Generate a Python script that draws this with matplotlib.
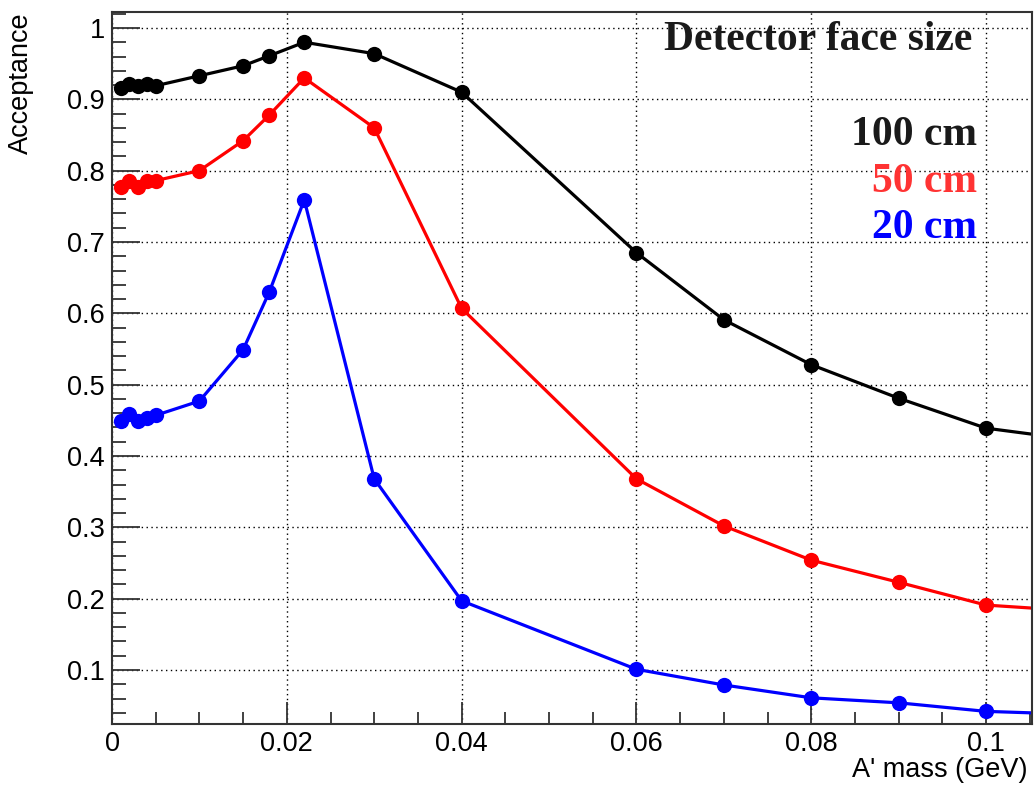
import numpy as np
import matplotlib
matplotlib.use("Agg")
import matplotlib.pyplot as plt
from matplotlib.ticker import MultipleLocator

# --- data ---
mass = [0.001, 0.002, 0.003, 0.004, 0.005, 0.01, 0.015, 0.018, 0.022,
        0.03, 0.04, 0.06, 0.07, 0.08, 0.09, 0.1, 0.11]

acc_100cm = [0.916, 0.921, 0.919, 0.921, 0.919, 0.933, 0.947, 0.961, 0.980,
             0.964, 0.910, 0.685, 0.591, 0.528, 0.481, 0.439, 0.423]
acc_50cm = [0.777, 0.786, 0.777, 0.786, 0.786, 0.800, 0.842, 0.878, 0.930,
            0.860, 0.607, 0.368, 0.302, 0.254, 0.223, 0.191, 0.183]
acc_20cm = [0.449, 0.459, 0.449, 0.453, 0.457, 0.477, 0.549, 0.630, 0.759,
            0.368, 0.197, 0.101, 0.079, 0.061, 0.054, 0.042, 0.038]

series = [("100 cm", acc_100cm, "black", "#1a1a1a"),
          ("50 cm", acc_50cm, "#ff0000", "#ff3333"),
          ("20 cm", acc_20cm, "#0000ff", "#0000ff")]

# --- figure ---
fig = plt.figure(figsize=(10.36, 7.86), dpi=100)
ax = fig.add_axes([112 / 1036, 1 - 724 / 786, 920 / 1036, 712 / 786])

for label, vals, col, _ in series:
    ax.plot(mass, vals, color=col, lw=2.3, marker="o", ms=11,
            markeredgewidth=0, clip_on=True)

ax.set_xlim(0, 0.10526)
ax.set_ylim(0.0243, 1.0224)

ax.xaxis.set_major_locator(MultipleLocator(0.02))
ax.xaxis.set_minor_locator(MultipleLocator(0.005))
ax.yaxis.set_major_locator(MultipleLocator(0.1))
ax.yaxis.set_minor_locator(MultipleLocator(0.02))

ax.set_xticks([0, 0.02, 0.04, 0.06, 0.08, 0.1])
ax.set_xticklabels(["0", "0.02", "0.04", "0.06", "0.08", "0.1"])
yt = [0.1, 0.2, 0.3, 0.4, 0.5, 0.6, 0.7, 0.8, 0.9, 1.0]
ax.set_yticks(yt)
ax.set_yticklabels(["0.1", "0.2", "0.3", "0.4", "0.5", "0.6", "0.7", "0.8", "0.9", "1"])

ax.tick_params(which="both", direction="in", top=False, right=False,
               labelsize=19.5, width=1.3, color="#333333")
ax.tick_params(axis="x", which="major", length=16, pad=5)
ax.tick_params(axis="x", which="minor", length=9)
ax.tick_params(axis="y", which="major", length=20, pad=5)
ax.tick_params(axis="y", which="minor", length=10)
for lab in ax.get_xticklabels() + ax.get_yticklabels():
    lab.set_family("Liberation Sans")

for sp in ax.spines.values():
    sp.set_linewidth(1.5)
    sp.set_color("#333333")

ax.grid(True, which="major", color="black", lw=1.0, ls=(0, (1, 2.5)))

ax.set_xlabel("A' mass (GeV)", fontsize=19.5, family="Liberation Sans")
ax.xaxis.set_label_coords(0.995, -0.047)
ax.xaxis.label.set_horizontalalignment("right")
ax.set_ylabel("Acceptance", fontsize=19.5, family="Liberation Sans")
ax.yaxis.set_label_coords(-0.085, 1.0)
ax.yaxis.label.set_horizontalalignment("right")

# --- legend-like text block ---
ax.text(0.0984, 0.969, "Detector face size", ha="right", va="baseline",
        fontsize=30, fontweight="bold", family="Liberation Serif", color="#1a1a1a")
ypos = [0.836, 0.770, 0.705]
for (label, _, _, tcol), yy in zip(series, ypos):
    ax.text(0.0990, yy, label, ha="right", va="baseline", fontsize=30,
            fontweight="bold", family="Liberation Serif", color=tcol)

fig.savefig("out.png", dpi=100)
